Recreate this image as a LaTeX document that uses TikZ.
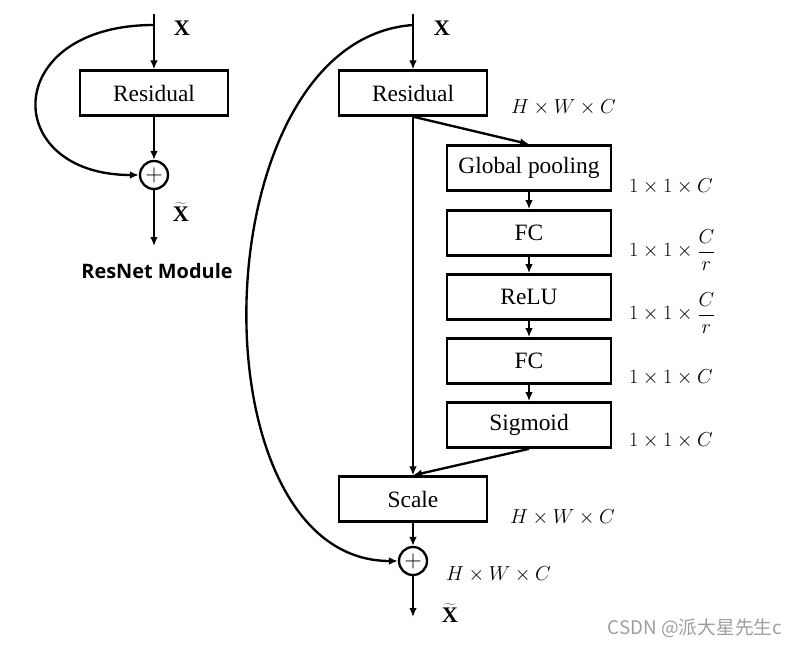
\documentclass[tikz,border=0pt]{standalone}
\usepackage{fontspec}
\setmainfont{Liberation Serif}
\newfontfamily\modsans{Open Sans}
\newfontfamily\cjk{Noto Sans CJK SC}
\usetikzlibrary{positioning,arrows.meta}

\begin{document}
\begin{tikzpicture}[x=0.3mm,y=-0.3mm,line width=2pt,
    >={Latex[length=2.7mm,width=2.3mm]},
    blk/.style={draw,rectangle,inner sep=0pt,minimum width=44.4mm,
      minimum height=13.5mm,font=\fontsize{20}{24}\selectfont},
    seblk/.style={blk,minimum width=49.2mm,minimum height=13.6mm},
    add/.style={draw,circle,inner sep=0pt,minimum size=8.4mm,
      font=\fontsize{20}{24}\selectfont},
    var/.style={inner sep=0pt,font=\fontsize{19}{22}\selectfont\bfseries},
    dims/.style={inner sep=0pt,anchor=west,font=\fontsize{16.5}{20}\selectfont}]
  \useasboundingbox (0,0) rectangle (800,648);

  % ResNet module
  \coordinate (ltop) at (154,14);
  \coordinate (lsplit) at (154,25);
  \node[blk] (lres) at (154,93) {Residual};
  \node[add] (ladd) at (154,175) {$+$};
  \coordinate (lout) at (154,246);
  \node[var] (lx) at (182,28) {X};
  \node[var] (lxt) at (181,212) {$\widetilde{\mbox{\bfseries X}}$};
  \node[inner sep=0pt,font=\fontsize{17}{20}\selectfont\modsans\bfseries]
    (lname) at (157,271) {ResNet Module};
  \draw[->] (ltop)--(lres);
  \draw[->] (lres)--(ladd);
  \draw[->] (ladd)--(lout);
  \draw[->] (lsplit).. controls (0,25) and (0,175) ..(ladd.west);

  % SE-ResNet module
  \coordinate (rtop) at (413,14);
  \coordinate (rsplit) at (413,25);
  \node[blk] (rres) at (413,93) {Residual};
  \node[seblk] (gp) at (529,168) {Global pooling};
  \node[seblk] (fc1) at (529,233) {FC};
  \node[seblk] (relu) at (529,297) {ReLU};
  \node[seblk] (fc2) at (529,361) {FC};
  \node[seblk] (sig) at (529,425) {Sigmoid};
  \node[blk] (scale) at (413,499) {Scale};
  \node[add] (radd) at (413,561) {$+$};
  \coordinate (rout) at (413,617);
  \node[var] (rx) at (442,28) {X};
  \node[var] (rxt) at (450,613) {$\widetilde{\mbox{\bfseries X}}$};

  \node[dims] (d0) at (510,107) {$H\times W\times C$};
  \node[dims] (d1) at (628,186) {$1\times 1\times C$};
  \node[dims] (d2) at (628,250) {$\displaystyle 1\times 1\times\frac{C}{r}$};
  \node[dims] (d3) at (628,313) {$\displaystyle 1\times 1\times\frac{C}{r}$};
  \node[dims] (d4) at (628,377) {$1\times 1\times C$};
  \node[dims] (d5) at (628,440) {$1\times 1\times C$};
  \node[dims] (d6) at (509,517) {$H\times W\times C$};
  \node[dims] (d7) at (445,574) {$H\times W\times C$};

  \draw[->] (rtop)--(rres);
  \draw[->] (rres.south)--(gp.north);
  \foreach \a/\b in {gp/fc1,fc1/relu,relu/fc2,fc2/sig}
    \draw[->] (\a)--(\b);
  \draw[->] (rres)--(scale);
  \draw[->] (sig.south)--(scale.north);
  \draw[->] (scale)--(radd);
  \draw[->] (radd)--(rout);
  \draw[->] (rsplit).. controls (200,40) and (190,561) ..(radd.west);

  \node[inner sep=0pt,text=black!38,font=\fontsize{16}{18}\selectfont\cjk]
    (mark) at (695,628) {CSDN @派大星先生c};
\end{tikzpicture}
\end{document}
